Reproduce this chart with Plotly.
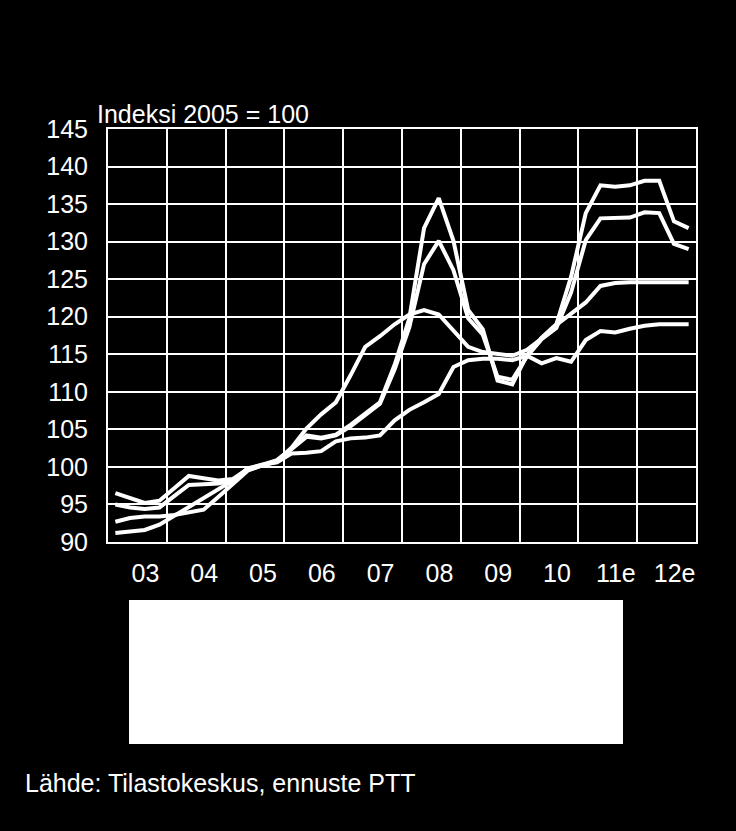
import plotly.graph_objects as go

# Quarter centres 2003Q1 .. 2012Q4
years = list(range(2003, 2013))
quarters = [y + (q - 0.5) / 4 for y in years for q in range(1, 5)]

series_a = [96.5, 95.8, 95.2, 95.5, 97.2, 98.8, 98.5, 98.2,
            98.4, 99.7, 100.3, 100.9, 102.5, 104.2, 103.9, 104.3,
            105.6, 107.1, 108.6, 113.6, 119.8, 131.8, 135.8, 130.1,
            120.9, 118.3, 111.5, 111.0, 114.9, 117.2, 119.0, 125.3,
            133.8, 137.5, 137.3, 137.5, 138.1, 138.1, 132.7, 131.8]
series_b = [95.0, 94.6, 94.4, 94.6, 96.1, 97.6, 97.7, 97.8,
            98.2, 99.6, 100.2, 100.8, 102.4, 104.0, 103.8, 104.2,
            105.4, 106.9, 108.4, 113.0, 118.6, 127.0, 130.1, 126.2,
            119.8, 117.6, 112.0, 111.6, 114.7, 117.0, 118.5, 123.2,
            130.2, 133.1, 133.1, 133.2, 133.9, 133.8, 129.7, 129.0]
series_c = [92.7, 93.2, 93.4, 93.4, 93.6, 94.0, 94.3, 96.0,
            97.8, 99.5, 100.2, 100.7, 102.6, 105.1, 107.0, 108.6,
            112.2, 116.0, 117.4, 119.0, 120.3, 120.9, 120.3, 118.2,
            116.0, 115.3, 115.0, 114.8, 115.6, 117.1, 118.9, 120.4,
            121.9, 124.1, 124.5, 124.6, 124.6, 124.6, 124.6, 124.6]
series_d = [91.2, 91.4, 91.6, 92.3, 93.5, 94.6, 95.8, 97.0,
            98.2, 99.8, 100.3, 100.6, 101.8, 101.9, 102.1, 103.4,
            103.8, 103.9, 104.2, 106.2, 107.6, 108.6, 109.7, 113.3,
            114.2, 114.4, 114.4, 114.2, 114.8, 113.8, 114.5, 114.0,
            116.9, 118.1, 117.9, 118.4, 118.8, 119.0, 119.0, 119.0]

year_labels = ["03", "04", "05", "06", "07", "08", "09", "10", "11e", "12e"]
y_ticks = list(range(90, 150, 5))

FONT = "Liberation Sans, Arial, sans-serif"

fig = go.Figure()
for s in (series_d, series_c, series_b, series_a):
    fig.add_trace(go.Scatter(x=quarters, y=s, mode="lines",
                             line=dict(color="white", width=4),
                             showlegend=False, hoverinfo="skip"))

W, H = 736, 831
L, R, T, B = 108, 696, 129, 542
pw, ph = R - L, B - T

def px_x(px):
    return (px - L) / pw

def px_y(py):
    return (B - py) / ph

# labels in the original sit slightly right of the year centres
label_shift = 8 / (pw / 10)

fig.update_layout(
    width=W, height=H,
    margin=dict(l=L, r=W - R, t=T, b=H - B),
    paper_bgcolor="black", plot_bgcolor="black",
    font=dict(family=FONT, color="white", size=25),
    xaxis=dict(range=[2003, 2013], tickmode="array",
               tickvals=[y + 0.5 + label_shift for y in years], ticktext=year_labels,
               ticks="", showgrid=False, zeroline=False,
               showline=True, mirror=True, linecolor="white", linewidth=2,
               ticklabelstandoff=8,
               minor=dict(tickmode="linear", tick0=2003, dtick=1,
                          showgrid=True, gridcolor="white", gridwidth=2, ticks=""),
               tickfont=dict(size=25, color="white")),
    yaxis=dict(range=[90, 145], tickmode="array", tickvals=y_ticks,
               ticks="", showgrid=True, gridcolor="white", gridwidth=2,
               zeroline=False, showline=True, mirror=True,
               linecolor="white", linewidth=2, ticklabelstandoff=13,
               tickfont=dict(size=25, color="white")),
)

fig.add_annotation(text="Indeksi 2005 = 100", xref="paper", yref="paper",
                   x=px_x(95), y=px_y(114), xanchor="left", yanchor="middle",
                   showarrow=False, font=dict(size=25, color="white"))
fig.add_annotation(text="Lähde: Tilastokeskus, ennuste PTT", xref="paper", yref="paper",
                   x=px_x(23), y=px_y(783), xanchor="left", yanchor="middle",
                   showarrow=False, font=dict(size=25, color="white"))
fig.add_shape(type="rect", xref="paper", yref="paper",
              x0=px_x(129), x1=px_x(623), y0=px_y(600), y1=px_y(744),
              fillcolor="white", line=dict(width=0), layer="above")

fig.write_html("out.html",
               config={"displayModeBar": False, "staticPlot": True},
               post_script="document.body.style.margin='0';"
                           "document.body.style.background='black';"
                           "document.body.style.overflow='hidden';")
